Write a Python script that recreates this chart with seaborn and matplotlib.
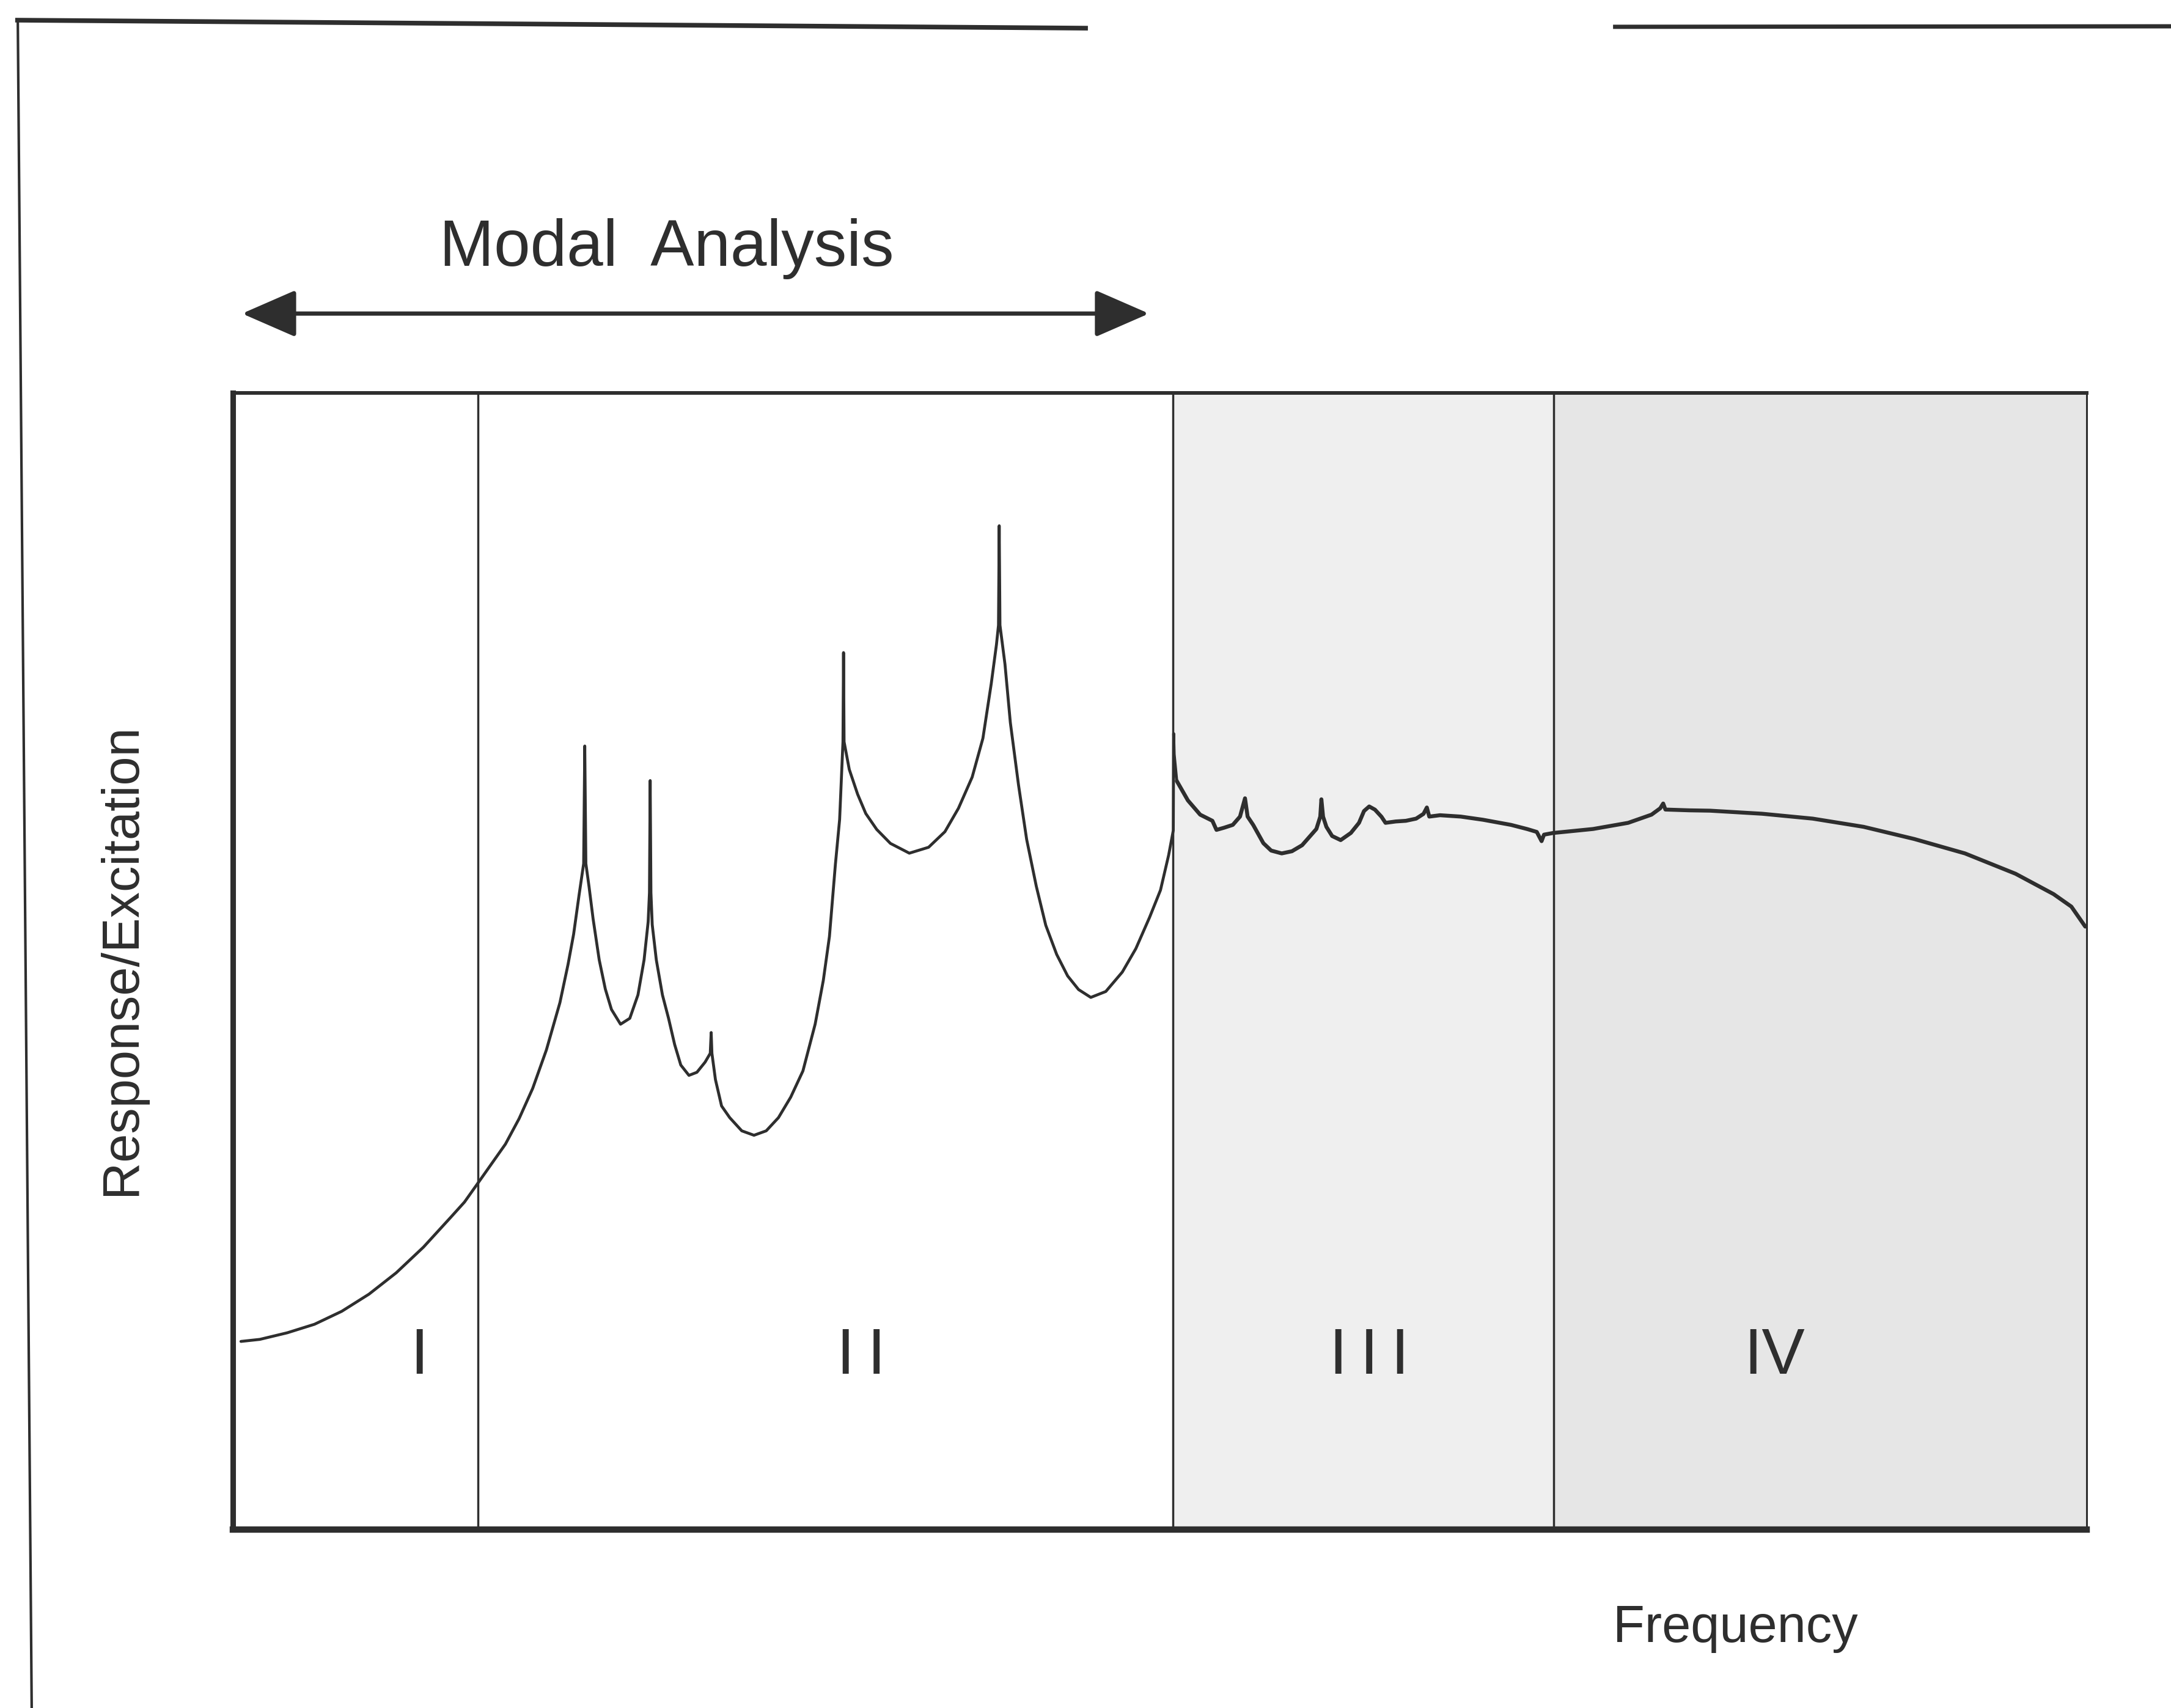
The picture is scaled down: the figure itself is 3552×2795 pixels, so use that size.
import matplotlib
matplotlib.use("Agg")
import matplotlib.pyplot as plt
from matplotlib.lines import Line2D
import pandas as pd
import seaborn as sns

# Frequency response (response/excitation) in relative units, 0-100 on both axes
frequency = [
    0.43, 1.45, 2.93, 4.40, 5.87, 7.34, 8.81, 10.28, 11.76, 12.49, 13.23, 14.70,
    15.44, 16.17, 16.91, 17.64, 18.08, 18.38, 18.67, 18.92, 18.98, 19.04, 19.21,
    19.43, 19.76, 20.09, 20.42, 20.91, 21.41, 21.85, 22.18, 22.40, 22.47, 22.51,
    22.55, 22.62, 22.84, 23.17, 23.50, 23.83, 24.16, 24.60, 25.03, 25.47, 25.75,
    25.80, 25.84, 26.03, 26.36, 26.80, 27.45, 28.11, 28.77, 29.43, 30.09, 30.75,
    31.41, 31.85, 32.18, 32.50, 32.73, 32.91, 32.94, 32.97, 33.25, 33.70, 34.14,
    34.73, 35.47, 36.49, 37.53, 38.41, 39.14, 39.88, 40.46, 40.91, 41.19, 41.30,
    41.34, 41.38, 41.65, 41.94, 42.38, 42.82, 43.34, 43.85, 44.44, 45.03, 45.62,
    46.28, 47.09, 47.98, 48.71, 49.45, 50.04, 50.48, 50.73, 50.75, 50.78, 50.92,
    51.52, 52.18, 52.84, 53.06, 53.47, 53.94, 54.33, 54.60, 54.74, 55.04, 55.59,
    56.01, 56.58, 57.13, 57.68, 58.45, 58.66, 58.72, 58.81, 58.99, 59.30, 59.76,
    60.31, 60.75, 61.02, 61.30, 61.61, 61.96, 62.18, 62.73, 63.28, 63.83, 64.23,
    64.41, 64.54, 65.12, 66.24, 67.44, 68.95, 69.83, 70.34, 70.60, 70.73, 71.23,
    72.22, 73.38, 75.27, 76.53, 77.00, 77.16, 77.28, 78.57, 79.69, 82.50, 85.23,
    87.97, 90.70, 93.44, 96.17, 98.22, 99.18, 99.93,
]
response = [
    16.55, 16.73, 17.31, 18.06, 19.20, 20.71, 22.59, 24.85, 27.49, 28.81, 30.51, 33.91,
    36.16, 38.81, 42.20, 46.36, 49.74, 52.39, 55.79, 58.59, 68.94, 58.59, 56.58,
    53.73, 50.12, 47.55, 45.76, 44.46, 44.98, 47.04, 50.12, 53.47, 56.03, 65.90,
    56.03, 53.22, 50.12, 47.04, 44.98, 42.67, 40.87, 39.96, 40.23, 41.12, 41.90,
    43.73, 41.90, 39.59, 37.27, 36.24, 35.08, 34.69, 35.08, 36.24, 38.04, 40.35,
    44.47, 48.32, 52.18, 58.50, 62.48, 69.31, 77.16, 69.31, 66.88, 64.70, 63.00,
    61.60, 60.37, 59.51, 60.03, 61.40, 63.46, 66.20, 69.62, 74.43, 77.86, 79.57,
    88.32, 79.57, 76.14, 71.00, 65.52, 60.72, 56.60, 53.17, 50.60, 48.71, 47.51,
    46.82, 47.34, 49.05, 51.11, 53.86, 56.26, 59.34, 61.51, 70.04, 68.21, 65.86,
    64.15, 62.90, 62.36, 61.56, 61.75, 62.00, 62.73, 64.34, 62.73, 62.00, 60.39,
    59.74, 59.49, 59.68, 60.21, 61.64, 62.73, 64.25, 62.73, 61.83, 61.02, 60.66,
    61.29, 62.18, 63.22, 63.62, 63.34, 62.72, 62.18, 62.30, 62.36, 62.55, 62.97,
    63.53, 62.73, 62.85, 62.73, 62.45, 62.00, 61.63, 61.38, 60.57, 61.14, 61.29,
    61.45, 61.64, 62.18, 62.90, 63.46, 63.88, 63.35, 63.28, 63.25, 62.98, 62.55,
    61.83, 60.76, 59.49, 57.70, 55.91, 54.81, 53.05,
]

# Frequency regions and their labels
region_edges = [0.0, 13.22, 50.71, 71.25, 100.0]
region_names = ["I", "II", "III", "IV"]
region_shades = ["#ffffff", "#ffffff", "#efefef", "#e6e6e6"]
region_label_x = [10.06, 33.9, 61.3, 83.15]
region_label_y = 13.7

# Band covered by modal analysis
modal_band = [0.49, 49.42]

INK = "#2e2e2e"

sns.set_theme(style="white")
plt.rcParams["font.family"] = ["Liberation Sans", "DejaVu Sans"]
plt.rcParams["text.color"] = INK

fig = plt.figure(figsize=(35.52, 27.95), dpi=100)
fig.patch.set_facecolor("white")
ax = fig.add_axes([0.1073, 0.1045, 0.8538, 0.6654])
ax.set_facecolor("white")

# shaded regions and dividers
for i, shade in enumerate(region_shades):
    ax.axvspan(region_edges[i], region_edges[i + 1], color=shade, lw=0, zorder=0)
for edge in region_edges[1:-1]:
    ax.axvline(edge, color=INK, lw=2.5, zorder=2)

# response curve; the high-frequency part was plotted with a heavier pen
df = pd.DataFrame({"frequency": frequency, "response": response})
sns.lineplot(data=df, x="frequency", y="response", sort=False, estimator=None,
             color=INK, linewidth=3.4, ax=ax, zorder=3)
high = df[df["frequency"] >= region_edges[2] + 0.1]
sns.lineplot(data=high, x="frequency", y="response", sort=False, estimator=None,
             color=INK, linewidth=4.6, ax=ax, zorder=3)
for ln in ax.lines:
    ln.set_solid_joinstyle("round")
    ln.set_solid_capstyle("round")

# region labels
for name, lx in zip(region_names, region_label_x):
    shown = "\u2009".join(name) if set(name) == {"I"} else name
    ax.text(lx, region_label_y, shown, ha="center", va="baseline",
            fontsize=76, color=INK, zorder=4)

ax.set_xlim(0, 100)
ax.set_ylim(0, 100)
ax.set_xticks([])
ax.set_yticks([])

for side, lw in {"left": 6.5, "bottom": 7.5, "top": 4.3, "right": 2.2}.items():
    ax.spines[side].set_visible(True)
    ax.spines[side].set_color(INK)
    ax.spines[side].set_linewidth(lw)
    ax.spines[side].set_capstyle("projecting")

ax.set_xlabel("Frequency", fontsize=61, color=INK, va="baseline")
ax.xaxis.set_label_coords(0.8107, -0.0989)
ax.set_ylabel("Response/Excitation", fontsize=61, color=INK, va="center")
ax.yaxis.set_label_coords(-0.0600, 0.5016)

# modal analysis band with double arrow
band_tf = ax.get_xaxis_transform()
ax.annotate("", xy=(modal_band[1], 1.0699), xytext=(modal_band[0], 1.0699),
            xycoords=band_tf, textcoords=band_tf, annotation_clip=False,
            arrowprops=dict(arrowstyle="<|-|>,head_length=55,head_width=24",
                            mutation_scale=1, lw=5, color=INK,
                            shrinkA=0, shrinkB=0))
ax.text(23.41, 1.1118, "Modal  Analysis", transform=band_tf, ha="center",
        va="baseline", fontsize=77, color=INK, clip_on=False)

# page frame around the figure
frame_kw = dict(transform=fig.transFigure, color=INK, solid_capstyle="butt")
fig.add_artist(Line2D([0.0082, 0.0146], [0.9875, 0.0], lw=3, **frame_kw))
fig.add_artist(Line2D([0.0070, 0.5011], [0.9882, 0.9835], lw=5.5, **frame_kw))
fig.add_artist(Line2D([0.7430, 1.0], [0.9843, 0.9846], lw=5, **frame_kw))

fig.savefig("out.png", dpi=100, facecolor="white")
